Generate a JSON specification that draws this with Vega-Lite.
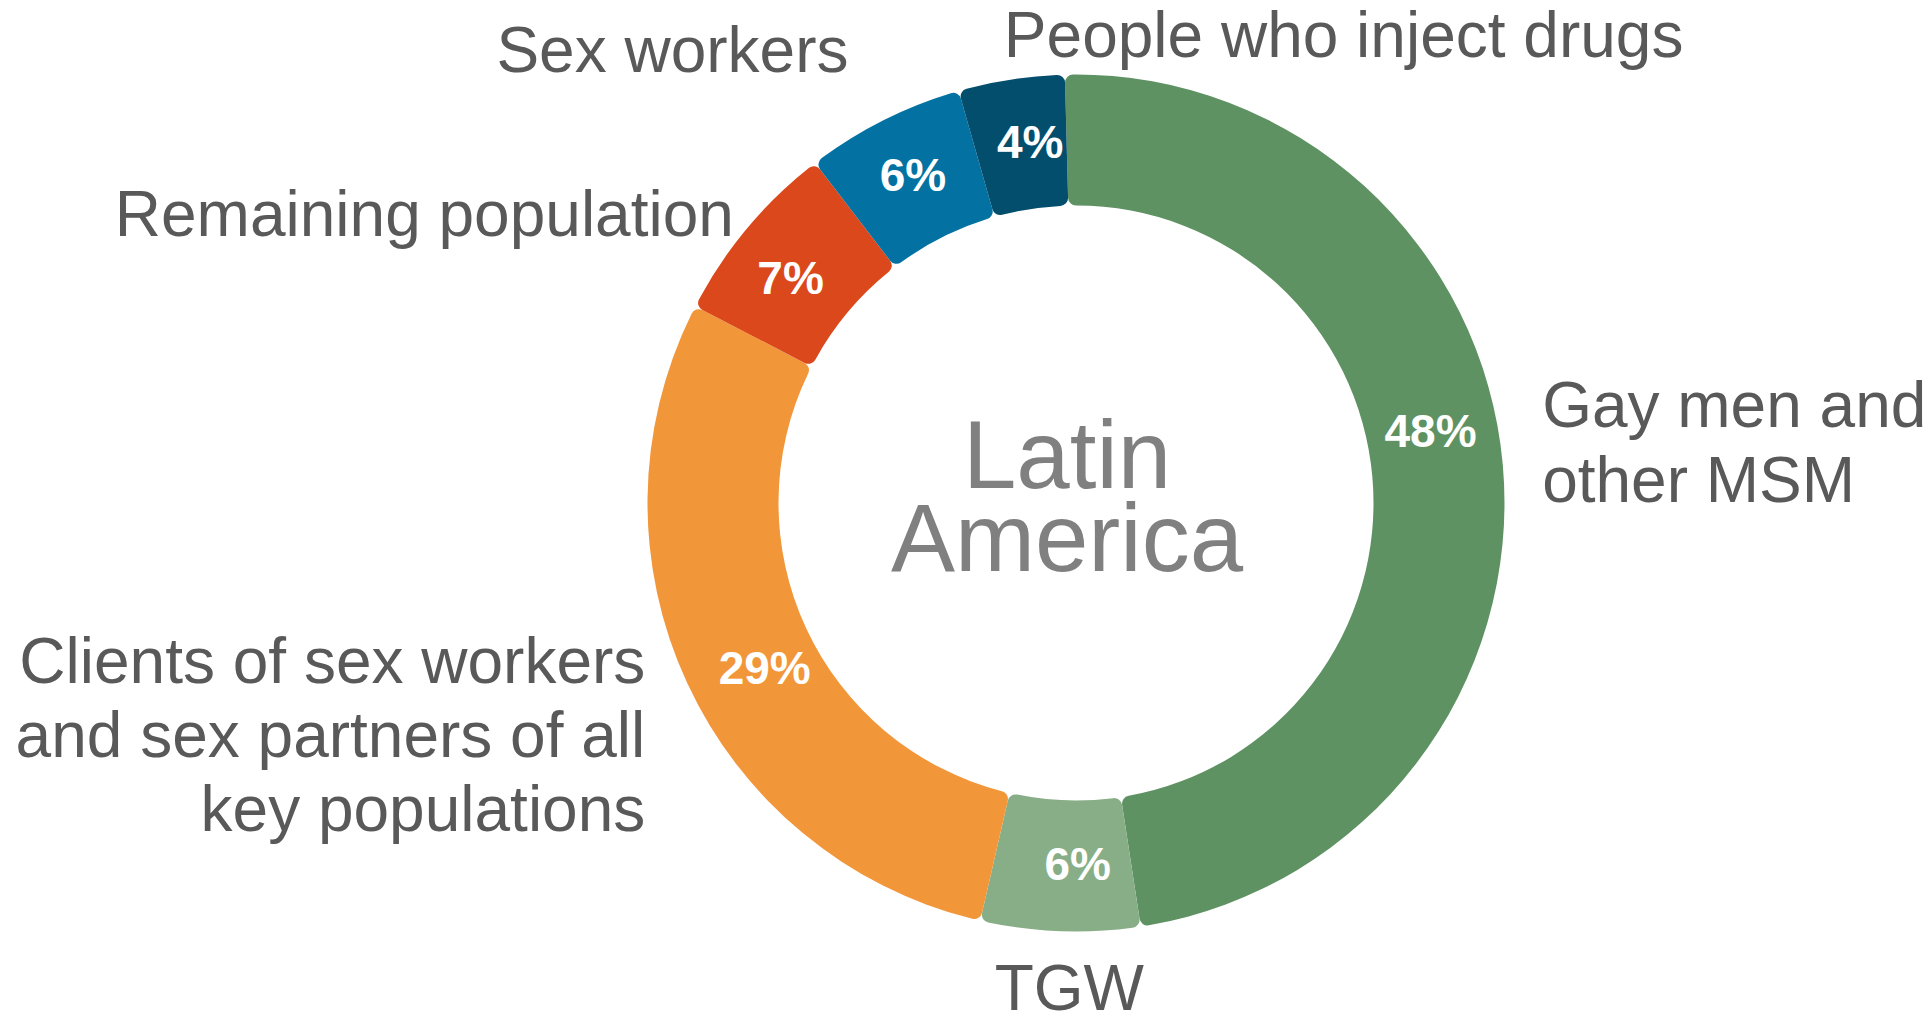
{
  "$schema": "https://vega.github.io/schema/vega-lite/v6.json",
  "width": 1710,
  "height": 1006,
  "autosize": {"type": "none"},
  "padding": {"left": 221, "top": 0, "right": 0, "bottom": 8},
  "background": "white",
  "config": {"view": {"stroke": null}},
  "data": {
    "values": [
      {"order": 1, "group": "Gay men and other MSM", "value": 0.48, "label": "Gay men and\nother MSM"},
      {"order": 2, "group": "TGW", "value": 0.06, "label": "TGW"},
      {"order": 3, "group": "Clients of sex workers and sex partners of all key populations", "value": 0.29, "label": "Clients of sex workers\nand sex partners of all\nkey populations"},
      {"order": 4, "group": "Remaining population", "value": 0.07, "label": "Remaining population"},
      {"order": 5, "group": "Sex workers", "value": 0.06, "label": "Sex workers"},
      {"order": 6, "group": "People who inject drugs", "value": 0.04, "label": "People who inject drugs"}
    ]
  },
  "layer": [
    {
      "mark": {"type": "arc", "outerRadius": 428.5, "innerRadius": 297.5, "cornerRadius": 8},
      "encoding": {
        "theta": {"field": "value", "type": "quantitative", "stack": true, "scale": {"domain": [0, 1], "range": [-0.026, 6.2572]}},
        "order": {"field": "order", "type": "quantitative"},
        "color": {
          "field": "group", "type": "nominal", "legend": null,
          "scale": {
            "domain": ["Gay men and other MSM", "TGW", "Clients of sex workers and sex partners of all key populations", "Remaining population", "Sex workers", "People who inject drugs"],
            "range": ["#5E9262", "#88AE87", "#F2963A", "#DA481B", "#0372A2", "#034E6D"]
          }
        }
      }
    },
    {
      "mark": {"type": "text", "font": "Liberation Sans", "fontSize": 46, "fontWeight": "bold", "color": "#FFFFFF", "align": "center", "baseline": "middle", "dx": -7, "dy": -38},
      "encoding": {
        "theta": {"field": "value", "type": "quantitative", "stack": true},
        "order": {"field": "order", "type": "quantitative"},
        "radius": {"value": 363},
        "text": {"condition": {"test": "datum.order === 1", "field": "value", "type": "quantitative", "format": ".0%"}, "value": ""}
      }
    },
    {
      "mark": {"type": "text", "font": "Liberation Sans", "fontSize": 46, "fontWeight": "bold", "color": "#FFFFFF", "align": "center", "baseline": "middle", "dx": 15},
      "encoding": {
        "theta": {"field": "value", "type": "quantitative", "stack": true},
        "order": {"field": "order", "type": "quantitative"},
        "radius": {"value": 363},
        "text": {"condition": {"test": "datum.order === 2", "field": "value", "type": "quantitative", "format": ".0%"}, "value": ""}
      }
    },
    {
      "mark": {"type": "text", "font": "Liberation Sans", "fontSize": 46, "fontWeight": "bold", "color": "#FFFFFF", "align": "center", "baseline": "middle", "dx": 18, "dy": 14},
      "encoding": {
        "theta": {"field": "value", "type": "quantitative", "stack": true},
        "order": {"field": "order", "type": "quantitative"},
        "radius": {"value": 363},
        "text": {"condition": {"test": "datum.order === 3", "field": "value", "type": "quantitative", "format": ".0%"}, "value": ""}
      }
    },
    {
      "mark": {"type": "text", "font": "Liberation Sans", "fontSize": 46, "fontWeight": "bold", "color": "#FFFFFF", "align": "center", "baseline": "middle", "dx": -7, "dy": 10},
      "encoding": {
        "theta": {"field": "value", "type": "quantitative", "stack": true},
        "order": {"field": "order", "type": "quantitative"},
        "radius": {"value": 363},
        "text": {"condition": {"test": "datum.order === 4", "field": "value", "type": "quantitative", "format": ".0%"}, "value": ""}
      }
    },
    {
      "mark": {"type": "text", "font": "Liberation Sans", "fontSize": 46, "fontWeight": "bold", "color": "#FFFFFF", "align": "center", "baseline": "middle", "dy": -2},
      "encoding": {
        "theta": {"field": "value", "type": "quantitative", "stack": true},
        "order": {"field": "order", "type": "quantitative"},
        "radius": {"value": 363},
        "text": {"condition": {"test": "datum.order === 5", "field": "value", "type": "quantitative", "format": ".0%"}, "value": ""}
      }
    },
    {
      "mark": {"type": "text", "font": "Liberation Sans", "fontSize": 46, "fontWeight": "bold", "color": "#FFFFFF", "align": "center", "baseline": "middle", "dx": 9},
      "encoding": {
        "theta": {"field": "value", "type": "quantitative", "stack": true},
        "order": {"field": "order", "type": "quantitative"},
        "radius": {"value": 363},
        "text": {"condition": {"test": "datum.order === 6", "field": "value", "type": "quantitative", "format": ".0%"}, "value": ""}
      }
    },
    {
      "mark": {"type": "text", "font": "Liberation Sans", "fontSize": 64, "color": "#595959", "align": "left", "baseline": "alphabetic", "lineBreak": "\n", "lineHeight": 75, "dy": -34},
      "encoding": {
        "theta": {"field": "value", "type": "quantitative", "stack": true},
        "order": {"field": "order", "type": "quantitative"},
        "radius": {"value": 468},
        "text": {"condition": {"test": "datum.order === 1", "field": "label"}, "value": ""}
      }
    },
    {
      "mark": {"type": "text", "font": "Liberation Sans", "fontSize": 64, "color": "#595959", "align": "center", "baseline": "alphabetic", "dx": 12},
      "encoding": {
        "theta": {"field": "value", "type": "quantitative", "stack": true},
        "order": {"field": "order", "type": "quantitative"},
        "radius": {"value": 507},
        "text": {"condition": {"test": "datum.order === 2", "field": "label"}, "value": ""}
      }
    },
    {
      "mark": {"type": "text", "font": "Liberation Sans", "fontSize": 64, "color": "#595959", "align": "right", "baseline": "alphabetic", "lineBreak": "\n", "lineHeight": 74, "dy": -21, "dx": 2},
      "encoding": {
        "theta": {"field": "value", "type": "quantitative", "stack": true},
        "order": {"field": "order", "type": "quantitative"},
        "radius": {"value": 477},
        "text": {"condition": {"test": "datum.order === 3", "field": "label"}, "value": ""}
      }
    },
    {
      "mark": {"type": "text", "font": "Liberation Sans", "fontSize": 64, "color": "#595959", "align": "right", "baseline": "alphabetic", "dy": 19},
      "encoding": {
        "theta": {"field": "value", "type": "quantitative", "stack": true},
        "order": {"field": "order", "type": "quantitative"},
        "radius": {"value": 446},
        "text": {"condition": {"test": "datum.order === 4", "field": "label"}, "value": ""}
      }
    },
    {
      "mark": {"type": "text", "font": "Liberation Sans", "fontSize": 64, "color": "#595959", "align": "right", "baseline": "alphabetic", "dx": -11},
      "encoding": {
        "theta": {"field": "value", "type": "quantitative", "stack": true},
        "order": {"field": "order", "type": "quantitative"},
        "radius": {"value": 482},
        "text": {"condition": {"test": "datum.order === 5", "field": "label"}, "value": ""}
      }
    },
    {
      "mark": {"type": "text", "font": "Liberation Sans", "fontSize": 64, "color": "#595959", "align": "left", "baseline": "alphabetic", "dx": -4},
      "encoding": {
        "theta": {"field": "value", "type": "quantitative", "stack": true},
        "order": {"field": "order", "type": "quantitative"},
        "radius": {"value": 451},
        "text": {"condition": {"test": "datum.order === 6", "field": "label"}, "value": ""}
      }
    },
    {
      "data": {"values": [{"title": "Latin\nAmerica"}]},
      "mark": {"type": "text", "font": "Liberation Sans", "fontSize": 96, "color": "#808080", "align": "center", "baseline": "alphabetic", "lineBreak": "\n", "lineHeight": 83, "dx": -9, "dy": -15},
      "encoding": {
        "text": {"field": "title", "type": "nominal"}
      }
    }
  ]
}
